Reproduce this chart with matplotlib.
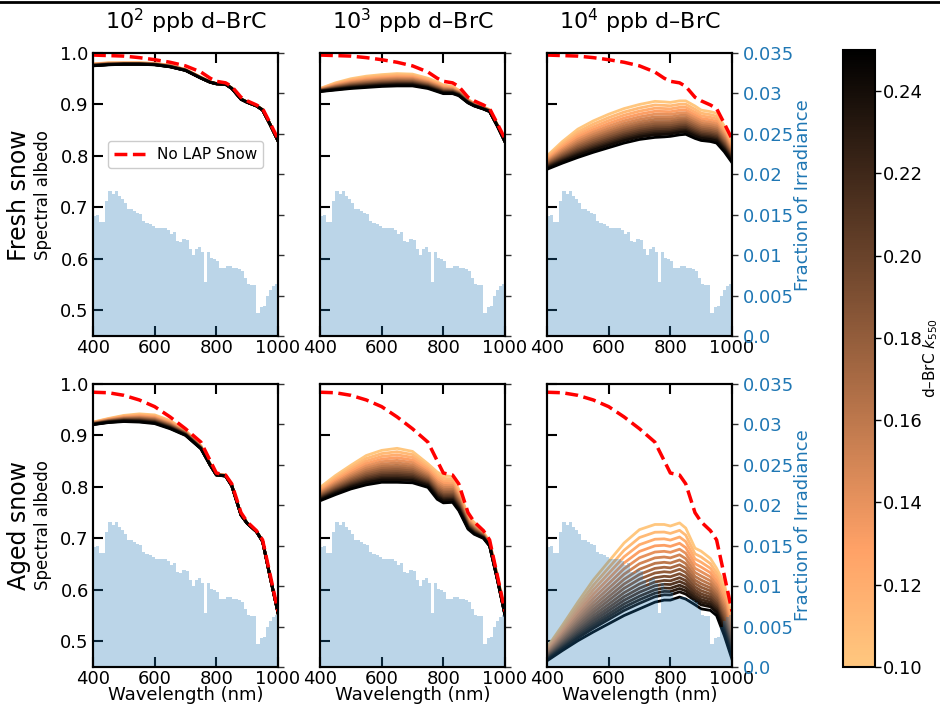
import numpy as np
import matplotlib
matplotlib.use("Agg")
import matplotlib.pyplot as plt
from matplotlib.colors import Normalize
from matplotlib.cm import ScalarMappable
from matplotlib.lines import Line2D
from matplotlib.ticker import FixedLocator, FixedFormatter

# ---------------- data ----------------
wavelength = [400, 450, 500, 550, 600, 650, 700, 750, 780, 800, 830, 850, 880, 900, 930, 950, 975, 1000]

k550 = [0.10, 0.11, 0.12, 0.13, 0.14, 0.15, 0.16, 0.17, 0.18, 0.19, 0.20, 0.21, 0.22, 0.23, 0.24, 0.25]
# relative position of each k curve between the k=0.10 and k=0.25 curves (read from the aged 10^4 panel)
band_position = [0.0, 0.10, 0.19, 0.275, 0.355, 0.43, 0.50, 0.565, 0.625, 0.685, 0.74, 0.79, 0.84, 0.885, 0.93, 1.0]

clean_fresh = [0.996, 0.995, 0.994, 0.991, 0.987, 0.982, 0.975, 0.963, 0.951, 0.945, 0.942, 0.935, 0.914, 0.907, 0.899, 0.892, 0.863, 0.833]
clean_aged = [0.984, 0.983, 0.978, 0.969, 0.956, 0.936, 0.913, 0.887, 0.851, 0.827, 0.823, 0.806, 0.750, 0.732, 0.715, 0.697, 0.628, 0.558]

fresh_1e2_k010 = [0.979, 0.981, 0.981, 0.981, 0.980, 0.976, 0.968, 0.953, 0.944, 0.941, 0.940, 0.932, 0.911, 0.905, 0.898, 0.890, 0.861, 0.830]
fresh_1e2_k025 = [0.975, 0.977, 0.978, 0.978, 0.977, 0.973, 0.966, 0.951, 0.943, 0.940, 0.939, 0.931, 0.910, 0.904, 0.897, 0.889, 0.860, 0.829]
fresh_1e3_k010 = [0.931, 0.942, 0.950, 0.955, 0.958, 0.960, 0.959, 0.951, 0.944, 0.938, 0.935, 0.928, 0.910, 0.902, 0.895, 0.890, 0.861, 0.830]
fresh_1e3_k025 = [0.925, 0.928, 0.931, 0.933, 0.935, 0.936, 0.936, 0.931, 0.925, 0.921, 0.921, 0.917, 0.903, 0.897, 0.891, 0.886, 0.858, 0.827]
fresh_1e4_k010 = [0.800, 0.828, 0.852, 0.868, 0.881, 0.892, 0.900, 0.906, 0.905, 0.904, 0.907, 0.907, 0.897, 0.889, 0.886, 0.883, 0.858, 0.822]
fresh_1e4_k025 = [0.774, 0.786, 0.797, 0.807, 0.816, 0.825, 0.832, 0.836, 0.837, 0.838, 0.841, 0.842, 0.834, 0.830, 0.828, 0.825, 0.808, 0.787]

aged_1e2_k010 = [0.926, 0.933, 0.939, 0.942, 0.940, 0.929, 0.910, 0.880, 0.845, 0.825, 0.823, 0.804, 0.747, 0.730, 0.714, 0.695, 0.624, 0.556]
aged_1e2_k025 = [0.921, 0.925, 0.927, 0.926, 0.923, 0.913, 0.900, 0.874, 0.842, 0.823, 0.821, 0.802, 0.745, 0.729, 0.713, 0.694, 0.623, 0.555]
aged_1e3_k010 = [0.799, 0.822, 0.842, 0.861, 0.871, 0.875, 0.869, 0.845, 0.829, 0.822, 0.820, 0.795, 0.744, 0.731, 0.712, 0.694, 0.628, 0.556]
aged_1e3_k025 = [0.773, 0.785, 0.796, 0.804, 0.809, 0.809, 0.808, 0.799, 0.776, 0.769, 0.770, 0.754, 0.718, 0.708, 0.700, 0.685, 0.620, 0.550]
aged_1e4_k010 = [0.488, 0.531, 0.576, 0.619, 0.655, 0.691, 0.717, 0.727, 0.727, 0.724, 0.730, 0.720, 0.681, 0.675, 0.661, 0.642, 0.612, 0.544]
aged_1e4_k025 = [0.462, 0.482, 0.501, 0.518, 0.534, 0.550, 0.563, 0.576, 0.580, 0.580, 0.586, 0.582, 0.571, 0.563, 0.560, 0.550, 0.511, 0.465]

irr_bin_edges = list(range(400, 1001, 10))
irr_fraction = [0.0148, 0.0150, 0.0141, 0.0141, 0.0167, 0.0179, 0.0176, 0.0179, 0.0173, 0.0170,
                0.0164, 0.0157, 0.0157, 0.0155, 0.0152, 0.0151, 0.0142, 0.0140, 0.0139, 0.0136,
                0.0134, 0.0134, 0.0134, 0.0133, 0.0131, 0.0126, 0.0129, 0.0117, 0.0116, 0.0120,
                0.0119, 0.0108, 0.0100, 0.0107, 0.0110, 0.0104, 0.0067, 0.0104, 0.0097, 0.0095,
                0.0093, 0.0084, 0.0084, 0.0086, 0.0086, 0.0084, 0.0084, 0.0083, 0.0081, 0.0072,
                0.0064, 0.0063, 0.0063, 0.0029, 0.0036, 0.0037, 0.0050, 0.0057, 0.0062, 0.0064]

col_titles = ["$10^2$ ppb d\u2013BrC", "$10^3$ ppb d\u2013BrC", "$10^4$ ppb d\u2013BrC"]
row_titles = ["Fresh snow", "Aged snow"]
irr_ticks = [0.0, 0.005, 0.01, 0.015, 0.02, 0.025, 0.03, 0.035]
irr_ticklabels = ["0.0", "0.005", "0.01", "0.015", "0.02", "0.025", "0.03", "0.035"]
cbar_ticks = [0.10, 0.12, 0.14, 0.16, 0.18, 0.20, 0.22, 0.24]

panels = [
    [(fresh_1e2_k010, fresh_1e2_k025), (fresh_1e3_k010, fresh_1e3_k025), (fresh_1e4_k010, fresh_1e4_k025)],
    [(aged_1e2_k010, aged_1e2_k025), (aged_1e3_k010, aged_1e3_k025), (aged_1e4_k010, aged_1e4_k025)],
]
clean = [clean_fresh, clean_aged]

# ---------------- figure ----------------
fig = plt.figure(figsize=(9.4, 7.08), dpi=100)
cmap = plt.get_cmap("copper_r")
norm = Normalize(vmin=0.10, vmax=0.25)

lefts = [93 / 940, 320 / 940, 547 / 940]
width = 185 / 940
bottoms = [1 - 336 / 708, 1 - 667 / 708]
height = 283 / 708

wl = np.array(wavelength)
tick_fs = 13
irr_color = "#1f77b4"

for r in range(2):
    for c in range(3):
        ax = fig.add_axes([lefts[c], bottoms[r], width, height])
        lo = np.array(panels[r][c][0])
        hi = np.array(panels[r][c][1])
        for k, p in zip(k550, band_position):
            curve = lo + (hi - lo) * p
            ax.plot(wl, curve, color=cmap(norm(k)), lw=2.0, zorder=2)
        red, = ax.plot(wl, clean[r], color="red", ls="--", lw=2.5, zorder=3,
                       label="No LAP Snow")
        ax.set_xlim(400, 1000)
        ax.set_ylim(0.45, 1.0)
        ax.set_xticks([400, 600, 800, 1000])
        ax.set_yticks([0.5, 0.6, 0.7, 0.8, 0.9, 1.0])
        ax.tick_params(axis="both", direction="in", length=7, width=1.5,
                       labelsize=tick_fs, top=True, pad=3)
        ax.tick_params(axis="x", pad=2)
        if c != 0:
            ax.tick_params(axis="y", labelleft=False)
        for s in ax.spines.values():
            s.set_linewidth(1.5)
        if r == 0:
            ax.set_title(col_titles[c], fontsize=16, pad=17)
        else:
            ax.set_xlabel("Wavelength (nm)", fontsize=13, labelpad=-1)

        ax2 = ax.twinx()
        ax2.stairs(irr_fraction, irr_bin_edges, fill=True, color=irr_color,
                   alpha=0.3, linewidth=0)
        ax2.set_ylim(0, 0.035)
        ax2.yaxis.set_major_locator(FixedLocator(irr_ticks))
        ax2.yaxis.set_major_formatter(FixedFormatter(irr_ticklabels))
        ax2.tick_params(axis="y", colors="#333333", labelcolor=irr_color,
                        labelsize=tick_fs, width=1.0, length=4)
        if c != 2:
            ax2.tick_params(axis="y", labelright=False)
        for s in ax2.spines.values():
            s.set_linewidth(1.5)
            s.set_color("black")
        ax2.set_xlim(400, 1000)

        if r == 0 and c == 0:
            ax2.legend(handles=[red], loc="center", bbox_to_anchor=(0.5, 0.64),
                       fontsize=11, framealpha=1.0)

# row labels
for r, yc in enumerate([1 - 195 / 708, 1 - 525 / 708]):
    fig.text(19 / 940, yc, row_titles[r], rotation=90, ha="center", va="center", fontsize=17)
    fig.text(43 / 940, yc, "Spectral albedo", rotation=90, ha="center", va="center", fontsize=12)
    fig.text(803 / 940, yc, "Fraction of Irradiance", rotation=90, ha="center", va="center",
             fontsize=13, color=irr_color)

# colorbar
cax = fig.add_axes([843 / 940, 1 - 667 / 708, 32 / 940, 617 / 708])
sm = ScalarMappable(norm=norm, cmap=cmap)
cb = fig.colorbar(sm, cax=cax)
cb.set_ticks(cbar_ticks)
cb.set_ticklabels([f"{t:.2f}" for t in cbar_ticks])
cb.ax.tick_params(labelsize=tick_fs, length=4, width=1.0, pad=2)
cb.outline.set_linewidth(1.5)
fig.text(931 / 940, 1 - 358 / 708, "d\u2013BrC $k_{550}$", rotation=90,
         ha="center", va="center", fontsize=11)

# top border line
fig.add_artist(Line2D([0, 1], [0.997, 0.997], transform=fig.transFigure, color="black", lw=2))

fig.savefig("out.png", dpi=100)
